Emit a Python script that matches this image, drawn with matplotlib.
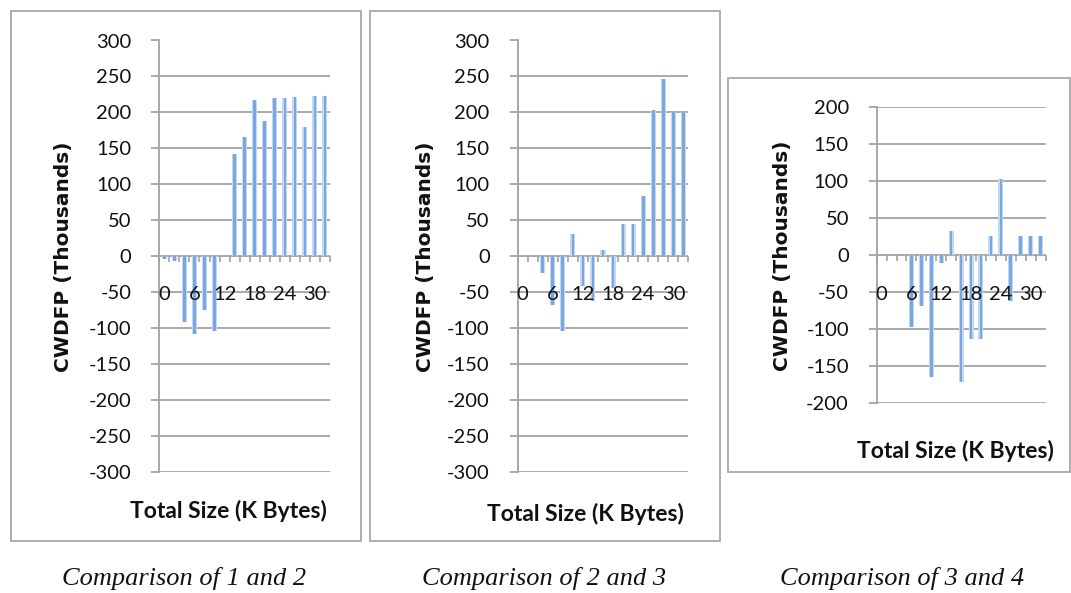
import numpy as np
import matplotlib
matplotlib.use("Agg")
from matplotlib import pyplot as plt
from matplotlib.patches import Rectangle
from matplotlib.ticker import FixedLocator, NullFormatter

# category axis: total size in K bytes
sizes = list(range(0, 33, 2))
tick_labels = ["0", "6", "12", "18", "24", "30"]
tick_pos = [0, 3, 6, 9, 12, 15]

# CWDFP values (thousands)
cmp12 = [-4, -7, -92, -109, -75, -104, 0, 142, 165, 217, 188, 220, 220, 221, 180, 223, 223]
cmp23 = [0, 0, -23, -68, -105, 30, -42, -63, 9, -44, 45, 45, 83, 203, 246, 200, 200]
cmp34 = [0, 0, 0, -97, -68, -165, -11, 33, -171, -113, -113, 26, 103, -62, 26, 26, 26]

captions = ["Comparison of 1 and 2", "Comparison of 2 and 3", "Comparison of 3 and 4"]

W, H = 1071, 593
fig = plt.figure(figsize=(W / 100, H / 100), dpi=100)
fig.patch.set_facecolor("white")

GRID = "#a3a3a3"
tick_font = dict(family=["Lato", "DejaVu Sans"], size=14.5, color="#111111")
lab_font = dict(family=["Lato", "DejaVu Sans"], size=16.5, weight="bold", color="#111111")
ylab_font = dict(family=["DejaVu Sans"], size=14.5, weight="bold", color="#111111")


def box(x0, y0, x1, y1):
    fig.add_artist(Rectangle((x0 / W, 1 - y1 / H), (x1 - x0) / W, (y1 - y0) / H,
                             transform=fig.transFigure, fill=False, ec="#a8a8a8", lw=1.3))


def panel(x0, x1, ytop, ybot, lim, values):
    ax = fig.add_axes([x0 / W, 1 - ybot / H, (x1 - x0) / W, (ybot - ytop) / H])
    ax.set_xlim(-0.5, len(sizes) - 0.5)
    ax.set_ylim(-lim, lim)
    ax.set_facecolor("none")
    for s in ["top", "right", "bottom"]:
        ax.spines[s].set_visible(False)
    ax.spines["left"].set_color(GRID)
    ax.spines["left"].set_linewidth(1.3)
    yt = np.arange(-lim, lim + 1, 50)
    ax.set_yticks(yt)
    ax.set_yticklabels([str(v) for v in yt])
    for t in ax.get_yticklabels():
        t.set_fontfamily(tick_font["family"])
        t.set_fontsize(tick_font["size"])
        t.set_color(tick_font["color"])
    ax.tick_params(axis="y", length=6, width=1.3, color=GRID, pad=14)
    for v in yt:
        ax.axhline(v, color=GRID, lw=1.3, zorder=1)
    # x axis: ticks at category boundaries on the zero line
    ax.set_xticks([])
    ax.xaxis.set_minor_locator(FixedLocator(np.arange(-0.5, len(sizes), 1)))
    ax.xaxis.set_minor_formatter(NullFormatter())
    ax.spines["bottom"].set_position(("data", 0))
    ax.tick_params(axis="x", which="minor", length=4, width=1.2, color=GRID, direction="out")
    idx = np.arange(len(sizes))
    ax.bar(idx, values, width=0.5, color="#c3d7f1", zorder=2, lw=0)
    ax.bar(idx, values, width=0.26, color="#7aa7df", zorder=3, lw=0)
    for p, lab in zip(tick_pos, tick_labels):
        ax.text(p, -53, lab, ha="center", va="center", zorder=4, **tick_font)
    return ax


box(10.7, 11, 360.5, 541)
box(370, 11, 719.5, 541)
box(727.5, 78.3, 1070, 471.7)

panel(159.3, 330, 40.5, 471.6, 300, cmp12)
panel(517.5, 688.5, 40.5, 471.6, 300, cmp23)
panel(876.7, 1045.5, 107.3, 403.2, 200, cmp34)

for x, y in [(64, 257), (425, 257), (782.5, 256)]:
    fig.text(x / W, 1 - y / H, "CWDFP (Thousands)", rotation=90, ha="center", va="center", **ylab_font)
for x, y in [(228.5, 511), (585, 514), (955, 451)]:
    fig.text(x / W, 1 - y / H, "Total Size (K Bytes)", ha="center", va="center", **lab_font)
for x, c in zip([184.5, 544, 901.6], captions):
    fig.text(x / W, 1 - 579 / H, c, ha="center", va="center", family=["Liberation Serif"],
             style="italic", size=19, color="#111111")

fig.savefig("out.png", dpi=100)
